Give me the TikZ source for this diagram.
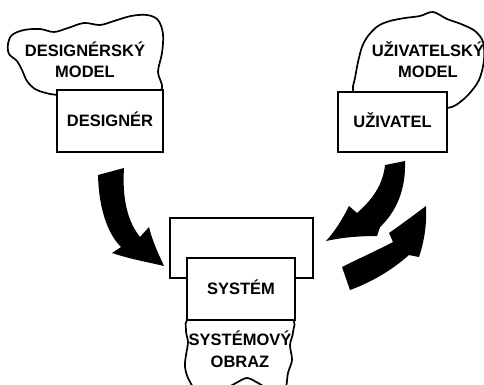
\documentclass[tikz,border=0pt]{standalone}
\usepackage{fontspec}
\setmainfont{Liberation Sans}
\begin{document}
\begin{tikzpicture}[x=1pt,y=-1pt,
  box/.style={draw, line width=1.8pt, fill=white, inner sep=0pt,
    font=\fontsize{16.5}{19}\selectfont\bfseries, text height=11.8pt, text depth=0pt},
  cloudline/.style={draw, line width=1.7pt, fill=white},
  lbl/.style={font=\fontsize{16.5}{19}\selectfont\bfseries, anchor=base, inner sep=0pt},
  bigarrow/.style={fill=black}]
\useasboundingbox (0,0) rectangle (484,385);
\clip (0,0) rectangle (484,385);

% designer cloud and box
\path[cloudline] plot[smooth cycle, tension=0.55] coordinates {
  (12,35) (24,30) (40,29) (54,32) (68,28) (84,23) (100,25) (114,21)
  (131,16) (147,15) (158,20) (163,34) (162,53) (158,72) (162,88)
  (150,98) (110,100) (58,95) (46,93) (35,89) (27,81) (22,70) (17,61)
  (9,54) (8,44)};
\node[lbl] (dm1) at (85,57) {DESIGNÉRSKÝ};
\node[lbl] (dm2) at (85,78) {MODEL};
\node[box, minimum width=106pt, minimum height=62pt] (designer) at (110,121) {DESIGNÉR};

% user cloud and box
\path[cloudline] plot[smooth cycle, tension=0.55] coordinates {
  (353,90) (355,78) (358,62) (362,47) (368,36) (378,26) (390,21)
  (405,18) (420,16) (433,12) (447,19) (461,24) (475,31) (483,42)
  (484,60) (479,80) (468,95) (456,105) (447,108) (420,112) (380,110) (360,102)};
\node[lbl] (um1) at (428,57) {UŽIVATELSKÝ};
\node[lbl] (um2) at (428,78) {MODEL};
\node[box, minimum width=109pt, minimum height=60pt] (user) at (392.5,122) {UŽIVATEL};

% system
\node[box, minimum width=143pt, minimum height=60pt] (back) at (241.5,248) {};
\path[cloudline] plot[smooth cycle, tension=0.55] coordinates {
  (191,318) (186,330) (188,342) (186,355) (185,367) (189,380) (200,394)
  (222,390) (236,383) (247,378) (258,383) (270,390) (284,394) (288,373)
  (292,360) (290,345) (293,332) (290,318) (240,312)};
\node[lbl] (so1) at (240,345) {SYSTÉMOVÝ};
\node[lbl] (so2) at (240,367) {OBRAZ};
\node[box, minimum width=108pt, minimum height=62pt] (system) at (241,289) {SYSTÉM};

% big arrows
\fill[bigarrow] (98,175) .. controls (99,212) and (109,235) .. (121,247)
  -- (112,253) .. controls (130,259) and (147,262) .. (164,266)
  .. controls (158,253) and (152,240) .. (149,227)
  -- (140,237) .. controls (128,222) and (122,200) .. (124,168) -- cycle;
\fill[bigarrow] (385,165) -- (405,161) .. controls (406,190) and (396,212) .. (380,227)
  -- (377,236) .. controls (355,236) and (340,238) .. (326,241)
  .. controls (336,230) and (343,218) .. (349,206)
  -- (357,213) .. controls (372,200) and (383,185) .. (385,165) -- cycle;
\fill[bigarrow] (342,267) .. controls (360,258) and (378,250) .. (393,242)
  -- (389,233) .. controls (402,224) and (414,215) .. (426,206)
  .. controls (427,225) and (424,242) .. (419,257)
  -- (409,255) .. controls (392,270) and (372,282) .. (350,290) -- cycle;
\end{tikzpicture}
\end{document}
